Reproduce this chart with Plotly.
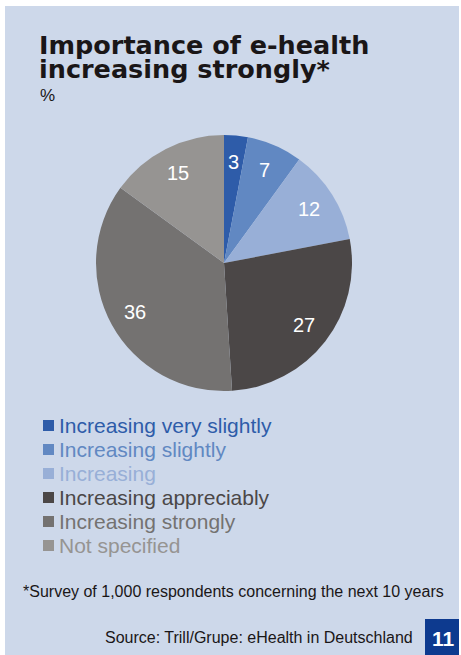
import math
import plotly.graph_objects as go

W, H = 461, 655

# Survey shares (%)
categories = [
    "Increasing very slightly",
    "Increasing slightly",
    "Increasing",
    "Increasing appreciably",
    "Increasing strongly",
    "Not specified",
]
shares = [3, 7, 12, 27, 36, 15]
slice_colors = ["#2e5ca9", "#6188c2", "#98afd7", "#4b4747", "#747271", "#969492"]

title_lines = ["Importance of e-health", "increasing strongly*"]
unit_label = "%"
footnote = "*Survey of 1,000 respondents concerning the next 10 years"
source = "Source: Trill/Grupe: eHealth in Deutschland"
page_no = "11"

PANEL = "#cdd8ea"
BODY_FONT = "Liberation Sans, Arial, sans-serif"
TITLE_FONT = "DejaVu Sans, sans-serif"


def px_x(x):
    return x / W


def px_y(y):
    return 1 - y / H


# pie placement in pixels
cx, cy, r = 224, 263, 128
label_r = 101

fig = go.Figure(
    go.Pie(
        labels=categories,
        values=shares,
        textinfo="none",
        textposition="none",
        marker=dict(colors=slice_colors, line=dict(width=0)),
        sort=False,
        direction="clockwise",
        rotation=0,
        hole=0,
        showlegend=False,
        domain=dict(x=[px_x(cx - r), px_x(cx + r)], y=[px_y(cy + r), px_y(cy - r)]),
    )
)

shapes = [
    # light blue panel
    dict(type="rect", xref="paper", yref="paper", x0=px_x(5), x1=px_x(459),
         y0=px_y(655), y1=px_y(6), fillcolor=PANEL, line=dict(width=0), layer="below"),
    # page number box
    dict(type="rect", xref="paper", yref="paper", x0=px_x(425), x1=px_x(459),
         y0=px_y(655), y1=px_y(619), fillcolor="#0d3a8f", line=dict(width=0)),
]

annotations = []

# value labels at the middle angle of each slice (clockwise from 12 o'clock)
total = sum(shares)
cum = 0
for v in shares:
    theta = 2 * math.pi * (cum + v / 2) / total
    cum += v
    lx = cx + label_r * math.sin(theta)
    ly = cy - label_r * math.cos(theta)
    annotations.append(dict(
        text=str(v), x=px_x(lx), y=px_y(ly), xref="paper", yref="paper",
        xanchor="center", yanchor="middle", showarrow=False,
        font=dict(family=BODY_FONT, size=20, color="white"),
    ))

for i, line in enumerate(title_lines):
    annotations.append(dict(
        text=f"<b>{line}</b>", x=px_x(37), y=px_y(45 + i * 24), xref="paper", yref="paper",
        xanchor="left", yanchor="middle", showarrow=False,
        font=dict(family=TITLE_FONT, size=25.5, color="#1a1617"),
    ))
annotations.append(dict(
    text=unit_label, x=px_x(38), y=px_y(96), xref="paper", yref="paper",
    xanchor="left", yanchor="middle", showarrow=False,
    font=dict(family=BODY_FONT, size=17, color="#1a1617"),
))

# legend drawn as swatches + coloured labels
for i, (name, col) in enumerate(zip(categories, slice_colors)):
    yc = 425.5 + i * 24
    shapes.append(dict(type="rect", xref="paper", yref="paper",
                       x0=px_x(43), x1=px_x(54), y0=px_y(yc + 5.5), y1=px_y(yc - 5.5),
                       fillcolor=col, line=dict(width=0)))
    annotations.append(dict(
        text=name, x=px_x(57), y=px_y(yc), xref="paper", yref="paper",
        xanchor="left", yanchor="middle", showarrow=False,
        font=dict(family=BODY_FONT, size=21, color=col),
    ))

annotations.append(dict(
    text=footnote, x=px_x(21), y=px_y(591), xref="paper", yref="paper",
    xanchor="left", yanchor="middle", showarrow=False,
    font=dict(family=BODY_FONT, size=16, color="#1a1617"),
))
annotations.append(dict(
    text=source, x=px_x(415), y=px_y(637), xref="paper", yref="paper",
    xanchor="right", yanchor="middle", showarrow=False,
    font=dict(family=BODY_FONT, size=16, color="#1a1617"),
))
annotations.append(dict(
    text=f"<b>{page_no}</b>", x=px_x(443), y=px_y(638), xref="paper", yref="paper",
    xanchor="center", yanchor="middle", showarrow=False,
    font=dict(family=BODY_FONT, size=21, color="white"),
))

fig.update_layout(
    width=W, height=H,
    margin=dict(l=0, r=0, t=0, b=0),
    paper_bgcolor="white",
    plot_bgcolor="white",
    shapes=shapes,
    annotations=annotations,
)

fig.write_html("out.html", config=dict(displayModeBar=False))
